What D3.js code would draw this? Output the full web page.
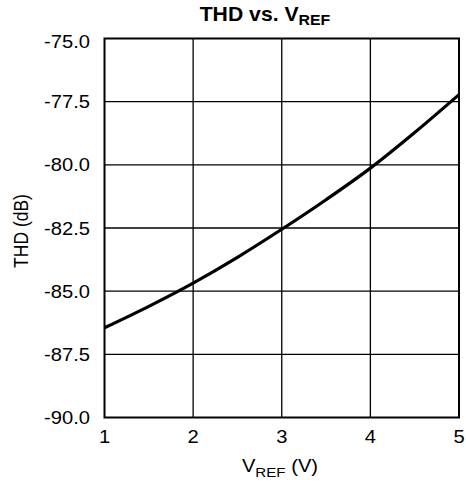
<!DOCTYPE html>
<html>
<head>
<meta charset="utf-8">
<script src="https://cdn.jsdelivr.net/npm/d3@7"></script>
<style>
  body { margin: 0; background: #fff; }
  text { font-family: Arial, "Liberation Sans", sans-serif; fill: #000; }
</style>
</head>
<body>
<script>
// values
const vref = [1, 1.5, 2, 2.5, 3, 3.5, 4, 4.5, 5];
const thd = [-86.45, -85.6, -84.68, -83.66, -82.55, -81.38, -80.13, -78.72, -77.22];
const xTicks = [1, 2, 3, 4, 5];
const yTicks = [-90, -87.5, -85, -82.5, -80, -77.5, -75];

const w = 466;
const h = 485;
const plotL = 104.5, plotR = 459, plotT = 38.5, plotB = 417.5;
const sx = 1.12; // glyphs in the reference are a bit wide

const xScale = d3.scaleLinear().domain([1, 5]).range([plotL, plotR]);
const yScale = d3.scaleLinear().domain([-90, -75]).range([plotB, plotT]);

const svg = d3.select("body").append("svg")
    .attr("width", w)
    .attr("height", h);

// helper: stretched text
const label = (x, y, str, size, anchor, weight, stretch) => {
    const g = svg.append("g").attr("transform", `translate(${x},${y}) scale(${stretch || sx},1)`);
    return g.append("text")
        .attr("text-anchor", anchor)
        .attr("font-size", size)
        .attr("font-weight", weight || "normal")
        .text(str);
};

// grid
svg.append("g").selectAll("line")
    .data(xTicks.slice(1, -1))
    .enter().append("line")
    .attr("x1", d => xScale(d)).attr("x2", d => xScale(d))
    .attr("y1", plotT).attr("y2", plotB)
    .attr("stroke", "#000").attr("stroke-width", 1.3);

svg.append("g").selectAll("line")
    .data(yTicks.slice(1, -1))
    .enter().append("line")
    .attr("x1", plotL).attr("x2", plotR)
    .attr("y1", d => yScale(d)).attr("y2", d => yScale(d))
    .attr("stroke", "#000").attr("stroke-width", 1.3);

// frame
svg.append("rect")
    .attr("x", plotL).attr("y", plotT)
    .attr("width", plotR - plotL).attr("height", plotB - plotT)
    .attr("fill", "none").attr("stroke", "#000").attr("stroke-width", 2);

// curve
const line = d3.line()
    .x((d, i) => xScale(vref[i]))
    .y(d => yScale(d))
    .curve(d3.curveMonotoneX);

svg.append("path")
    .datum(thd)
    .attr("d", line)
    .attr("fill", "none")
    .attr("stroke", "#000")
    .attr("stroke-width", 3.2);

// y tick labels (plain hyphen, as in the reference)
yTicks.forEach(t => {
    const y = t === -75 ? yScale(t) + 9 : yScale(t) + 6.5;
    label(90, y, t.toFixed(1), 18, "end");
});

// x tick labels
xTicks.forEach(t => {
    label(xScale(t), 443, String(t), 18, "middle");
});

// title
const title = label(265, 21, "THD vs. V", 20, "middle", "bold", 1.06);
title.append("tspan").attr("font-size", 15).attr("dy", 4).text("REF");

// x axis title
const xt = label(280, 472, "V", 18, "middle");
xt.append("tspan").attr("font-size", 13.5).attr("dy", 5).text("REF");
xt.append("tspan").attr("dy", -5).text(" (V)");

// y axis title
svg.append("g")
    .attr("transform", `translate(28,231) rotate(-90) scale(1,1.12)`)
    .append("text")
    .attr("text-anchor", "middle")
    .attr("font-size", 17.5)
    .text("THD (dB)");
</script>
</body>
</html>
